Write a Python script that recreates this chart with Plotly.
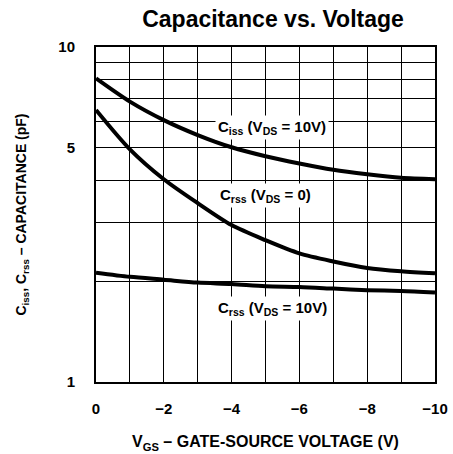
import math
import plotly.graph_objects as go

vgs = [0, -1, -2, -3, -4, -5, -6, -7, -8, -9, -10]
ciss_vds10 = [8.06, 6.87, 6.05, 5.46, 5.02, 4.72, 4.49, 4.30, 4.17, 4.07, 4.03]
crss_vds0 = [6.49, 4.95, 4.03, 3.42, 2.94, 2.65, 2.42, 2.29, 2.19, 2.14, 2.11]
crss_vds10 = [2.12, 2.06, 2.02, 1.98, 1.96, 1.93, 1.92, 1.90, 1.88, 1.87, 1.85]

x_ticks = list(range(0, -11, -1))
x_ticktext = ["<b>0</b>" if v == 0 else ("<b>\u2212" + str(-v) + "</b>" if v % 2 == 0 else "") for v in x_ticks]
y_ticks = [1, 2, 3, 4, 5, 6, 7, 8, 9, 10]
y_ticktext = ["<b>1</b>", "", "", "", "<b>5</b>", "", "", "", "", "<b>10</b>"]

FONT = "Liberation Sans Narrow, Arial Narrow, Liberation Sans, Arial, sans-serif"

fig = go.Figure()
for ys in (ciss_vds10, crss_vds0, crss_vds10):
    fig.add_trace(go.Scatter(x=vgs, y=ys, mode="lines",
                             line=dict(color="black", width=4, shape="spline", smoothing=0.8),
                             showlegend=False, hoverinfo="skip"))

labels = [
    ("<b>C<sub>iss</sub> (V<sub>DS</sub> = 10V)</b>", -5.2, 5.77),
    ("<b>C<sub>rss</sub> (V<sub>DS</sub> = 0)</b>", -5.0, 3.61),
    ("<b>C<sub>rss</sub> (V<sub>DS</sub> = 10V)</b>", -5.2, 1.66),
]
for txt, x, y in labels:
    fig.add_annotation(x=x, y=math.log10(y), yref="y", xref="x", text=txt, showarrow=False,
                       font=dict(family=FONT, size=15, color="black"),
                       bgcolor="white", borderpad=2)

fig.update_layout(
    width=453, height=454,
    margin=dict(l=96, r=18, t=47, b=72, autoexpand=False),
    paper_bgcolor="white", plot_bgcolor="white",
    title=dict(text="<b>Capacitance vs. Voltage</b>", x=273 / 453, xanchor="center",
               y=1 - 19 / 454, yanchor="middle", pad=dict(t=0, b=0),
               font=dict(family="Liberation Sans, Arial, sans-serif", size=23, color="black")),
    xaxis=dict(range=[0, -10], tickvals=x_ticks, ticktext=x_ticktext,
               showgrid=True, gridcolor="black", gridwidth=1,
               showline=True, linecolor="black", linewidth=2, mirror=True,
               zeroline=False, ticks="", ticklabelstandoff=12, automargin=False,
               tickfont=dict(family=FONT, size=15, color="black"),
               title=dict(text="<b>V<sub>GS</sub> \u2013 GATE-SOURCE VOLTAGE (V)</b>",
                          font=dict(family=FONT, size=16, color="black"), standoff=20)),
    yaxis=dict(type="log", range=[0, 1], tickvals=y_ticks, ticktext=y_ticktext,
               showgrid=True, gridcolor="black", gridwidth=1,
               showline=True, linecolor="black", linewidth=2, mirror=True,
               zeroline=False, ticks="", ticklabelstandoff=16, automargin=False,
               tickfont=dict(family=FONT, size=15, color="black"),
               title=dict(text="<b>C<sub>iss</sub>, C<sub>rss</sub> \u2013 CAPACITANCE (pF)</b>",
                          font=dict(family=FONT, size=14, color="black"), standoff=28)),
)

fig.write_html("out.html",
               config={"displayModeBar": False},
               post_script="document.body.style.margin='0';document.body.style.overflow='hidden';")
